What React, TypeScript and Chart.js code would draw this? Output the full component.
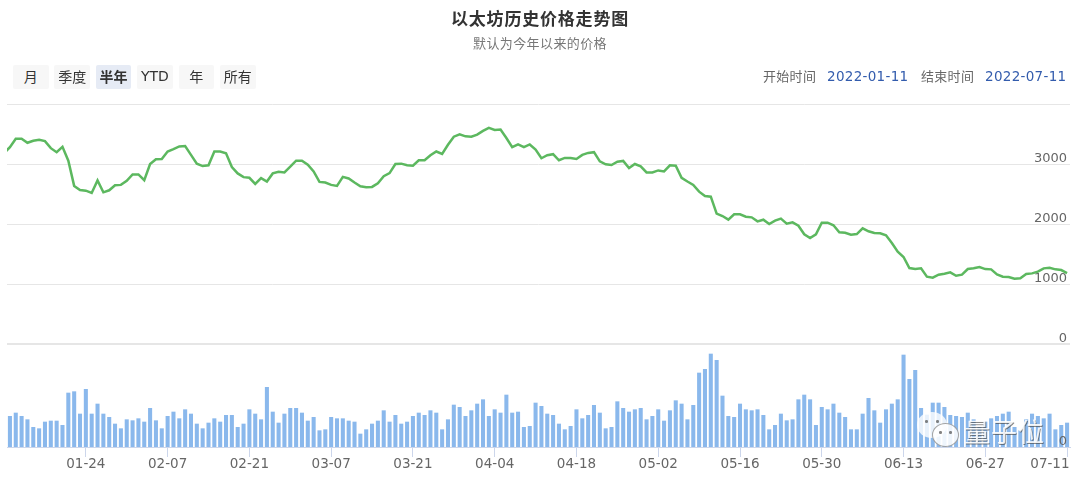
import React, { useEffect, useRef } from "react";
import { Chart, registerables } from "chart.js";

Chart.register(...registerables);

const titleText = "以太坊历史价格走势图";
const subtitleText = "默认为今年以来的价格";
const rangeButtons = ["月", "季度", "半年", "YTD", "年", "所有"];
const activeButton = "半年";
const tickLabels = ["01-24", "02-07", "02-21", "03-07", "03-21", "04-04", "04-18", "05-02", "05-16", "05-30", "06-13", "06-27", "07-11"];
const yTicks = [1000, 2000, 3000];

// First entry is the day before the visible range: the line enters from the plot's left edge.
const priceValues = [
  3180,
  3281, 3422, 3422, 3354, 3388, 3405, 3382, 3264, 3197, 3287,
  3056, 2635, 2567, 2556, 2517, 2725, 2528, 2562, 2646, 2652,
  2719, 2826, 2826, 2730, 3000, 3079, 3084, 3208, 3247, 3292,
  3298, 3152, 3006, 2966, 2978, 3208, 3208, 3180, 2949, 2843,
  2781, 2770, 2668, 2764, 2708, 2843, 2871, 2860, 2955, 3056,
  3056, 2989, 2876, 2702, 2691, 2652, 2635, 2786, 2758, 2691,
  2629, 2612, 2618, 2680, 2798, 2848, 3000, 3006, 2978, 2972,
  3062, 3062, 3146, 3208, 3169, 3320, 3455, 3495, 3461, 3455,
  3489, 3551, 3601, 3568, 3573, 3433, 3281, 3326, 3281, 3326,
  3242, 3096, 3146, 3163, 3062, 3101, 3101, 3084, 3152, 3185,
  3197, 3045, 2994, 2983, 3039, 3051, 2933, 3000, 2961, 2860,
  2860, 2893, 2876, 2978, 2972, 2770, 2708, 2652, 2539, 2466,
  2455, 2174, 2133, 2072, 2161, 2161, 2122, 2111, 2044, 2072,
  2000, 2056, 2089, 2006, 2028, 1972, 1828, 1766, 1828, 2022,
  2022, 1978, 1861, 1855, 1822, 1833, 1928, 1878, 1850, 1844,
  1811, 1683, 1539, 1450, 1266, 1249, 1261, 1122, 1105, 1155,
  1172, 1194, 1138, 1155, 1249, 1261, 1283, 1249, 1244, 1160,
  1122, 1116, 1088, 1094, 1166, 1177, 1205, 1261, 1272, 1244,
  1233, 1183,
];

const volumeValues = [
  null,
  92, 102, 92, 82, 59, 55, 75, 78, 78, 65,
  162, 166, 99, 173, 99, 129, 99, 89, 69, 55,
  82, 79, 85, 75, 116, 79, 55, 92, 105, 85,
  112, 99, 69, 55, 72, 85, 75, 95, 95, 59,
  69, 112, 99, 82, 179, 105, 72, 99, 116, 116,
  102, 78, 89, 49, 52, 89, 85, 85, 78, 75,
  39, 52, 69, 78, 109, 75, 95, 69, 75, 92,
  102, 95, 109, 102, 52, 82, 126, 119, 92, 109,
  129, 142, 92, 112, 102, 156, 102, 105, 59, 62,
  132, 122, 99, 95, 69, 52, 62, 112, 85, 95,
  125, 102, 55, 59, 136, 116, 105, 112, 116, 82,
  92, 112, 78, 109, 139, 129, 82, 125, 222, 233,
  279, 260, 153, 92, 89, 129, 112, 109, 112, 95,
  52, 65, 99, 79, 82, 142, 156, 142, 65, 119,
  112, 129, 102, 89, 52, 52, 99, 146, 109, 72,
  112, 129, 142, 276, 203, 230, 116, 96, 132, 132,
  119, 95, 92, 89, 102, 82, 59, 75, 85, 92,
  99, 105, 59, 49, 82, 99, 92, 85, 99, 52,
  65, 72,
];

const dateLabels = priceValues.map((_, i) => {
  const d = new Date(Date.UTC(2022, 0, 10 + i));
  return `${String(d.getUTCMonth() + 1).padStart(2, "0")}-${String(d.getUTCDate()).padStart(2, "0")}`;
});

const xTickFont = { family: "'DejaVu Sans'", size: 13.5, lineHeight: "14px" };
const yTickFont = { family: "'DejaVu Sans'", size: 13, lineHeight: "11px" };
const cjk = "'Noto Sans CJK SC', 'Noto Sans', sans-serif";
const lucida = "'DejaVu Sans', sans-serif";

const abs = (s: React.CSSProperties): React.CSSProperties => ({ position: "absolute", whiteSpace: "nowrap", ...s });

export default function App() {
  const ref = useRef<HTMLCanvasElement | null>(null);

  useEffect(() => {
    if (!ref.current) return;
    const chart = new Chart(ref.current, {
      data: {
        labels: dateLabels,
        datasets: [
          {
            type: "line",
            label: "价格",
            data: priceValues,
            yAxisID: "price",
            borderColor: "#5cb85f",
            borderWidth: 2.5,
            pointRadius: 0,
            tension: 0,
            order: 1,
          },
          {
            type: "bar",
            label: "成交量",
            data: volumeValues,
            yAxisID: "volume",
            backgroundColor: "#8ab8ec",
            barThickness: 3.4,
            order: 2,
          },
        ],
      } as any,
      options: {
        responsive: false,
        animation: false,
        events: [],
        layout: { padding: { left: 7, right: 10, top: 104, bottom: 0 } },
        plugins: { legend: { display: false }, tooltip: { enabled: false }, title: { display: false } },
        scales: {
          x: {
            type: "category",
            min: dateLabels[1],
            offset: true,
            position: "bottom",
            grid: { offset: false, drawOnChartArea: false, drawTicks: true, tickLength: 10, tickColor: "#ccd6eb", tickWidth: 1 },
            border: { color: "#ccd6eb" },
            ticks: {
              autoSkip: false,
              maxRotation: 0,
              minRotation: 0,
              padding: 0,
              color: "#666666",
              font: xTickFont,
              callback(this: any, v: any) {
                const l = this.getLabelForValue(v);
                return l === "07-11" ? "07-11        " : l;
              },
            },
            afterBuildTicks(s: any) {
              s.ticks = s.ticks.filter((t: any) => tickLabels.includes(dateLabels[t.value]));
            },
            afterFit(s: any) {
              s.height = 32;
              s.paddingLeft = 0;
              s.paddingRight = 0;
            },
          },
          price: {
            type: "linear",
            position: "right",
            stack: "panes",
            stackWeight: 240,
            min: 0,
            max: 4000,
            grid: {
              color: "#e6e6e6",
              drawTicks: false,
              lineWidth: (c: any) => (c.tick && c.tick.value === 0 ? 2 : 1),
            },
            border: { display: false },
            ticks: {
              stepSize: 1000,
              mirror: true,
              padding: -3,
              color: "#666666",
              font: yTickFont,
              callback: (v: any) => (v === 0 || yTicks.includes(v) ? [String(v), ""] : ""),
            },
            afterFit(s: any) {
              s.width = 0;
              s.paddingTop = 0;
              s.paddingBottom = 0;
            },
          },
          volume: {
            type: "linear",
            position: "right",
            stack: "panes",
            stackWeight: 103,
            min: 0,
            max: 309,
            grid: { display: false, drawTicks: false },
            border: { display: false },
            ticks: {
              mirror: true,
              z: 1,
              padding: -3,
              color: "#666666",
              font: yTickFont,
              callback: (v: any) => (v === 0 ? [String(v), ""] : ""),
            },
            afterBuildTicks(s: any) {
              s.ticks = s.ticks.filter((t: any) => t.value === 0);
            },
            afterFit(s: any) {
              s.width = 0;
              s.paddingTop = 0;
              s.paddingBottom = 0;
            },
          },
        },
      } as any,
    });
    return () => chart.destroy();
  }, []);

  const eye = (left: number, top: number) => (
    <div style={abs({ left, top, width: 2.5, height: 2.5, borderRadius: "50%", background: "rgba(90,90,90,0.75)" })} />
  );

  return (
    <div style={{ position: "fixed", left: 0, top: 0, width: 1080, height: 479, background: "#fff", overflow: "hidden" }}>
      <canvas ref={ref} width={1080} height={479} style={{ position: "absolute", left: 0, top: 0, display: "block" }} />
      <div style={abs({ left: 0, width: 1080, top: 5, textAlign: "center", font: `bold 17px ${cjk}`, lineHeight: "26px", color: "#333", letterSpacing: 0.8 })}>{titleText}</div>
      <div style={abs({ left: 0, width: 1080, top: 33, textAlign: "center", font: `13px ${cjk}`, lineHeight: "20px", color: "#777", letterSpacing: 0.4 })}>{subtitleText}</div>
      {rangeButtons.map((b, i) => (
        <div
          key={b}
          style={abs({
            left: 13 + i * 41.4,
            top: 64.5,
            width: 35.5,
            height: 24.5,
            lineHeight: "22px",
            textAlign: "center",
            borderRadius: 2,
            background: b === activeButton ? "#e6ebf5" : "#f7f7f7",
            color: "#333",
            fontFamily: b === "YTD" ? lucida : cjk,
            fontSize: 14,
            fontWeight: b === activeButton ? 700 : 400,
          })}
        >
          {b}
        </div>
      ))}
      <span style={abs({ left: 763, top: 66, font: `13px ${cjk}`, lineHeight: "20px", color: "#666", letterSpacing: 0.3 })}>开始时间</span>
      <span style={abs({ left: 827, top: 66, font: `13.5px ${lucida}`, lineHeight: "20px", color: "#335cad", letterSpacing: 0.3 })}>2022-01-11</span>
      <span style={abs({ left: 921, top: 66, font: `13px ${cjk}`, lineHeight: "20px", color: "#666", letterSpacing: 0.3 })}>结束时间</span>
      <span style={abs({ left: 985, top: 66, font: `13.5px ${lucida}`, lineHeight: "20px", color: "#335cad", letterSpacing: 0.3 })}>2022-07-11</span>
      <div style={abs({ left: 917, top: 412, width: 30, height: 26, borderRadius: "50%", background: "rgba(255,255,255,0.8)" })} />
      <div style={abs({ left: 932, top: 423, width: 25, height: 22, borderRadius: "50%", background: "rgba(255,255,255,0.85)", border: "1px solid rgba(90,90,90,0.55)" })} />
      {eye(925, 420)}
      {eye(936, 420)}
      {eye(939, 431)}
      {eye(949, 431)}
      <div style={abs({ left: 964, top: 414, font: `26px ${cjk}`, lineHeight: "34px", color: "rgba(255,255,255,0.88)", textShadow: "0.7px 0.7px 0 rgba(70,70,70,0.65)", letterSpacing: 1 })}>量子位</div>
    </div>
  );
}
